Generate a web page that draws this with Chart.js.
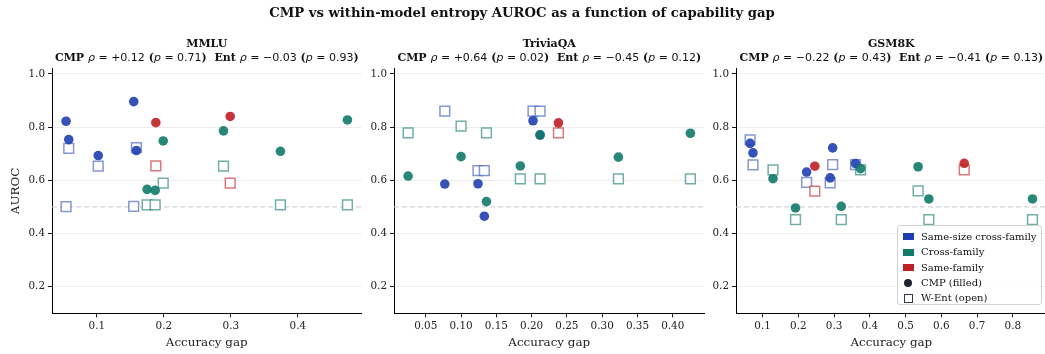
<!DOCTYPE html>
<html><head><meta charset="utf-8">
<script src="https://cdn.jsdelivr.net/npm/chart.js@4"></script>
<style>
html,body{margin:0;padding:0;background:#fff;overflow:hidden;width:1045px;height:354px;}
#wrap{position:relative;width:1045px;height:354px;overflow:hidden;}
canvas{position:absolute;top:0;}
.t{position:absolute;font-family:"DejaVu Serif";color:#111;white-space:nowrap;transform:translateX(-50%);}
.main{font-size:13.2px;font-weight:bold;line-height:15px;top:4.5px;}
.sub1{font-size:11px;font-weight:bold;line-height:13px;top:36.5px;}
.sub2{font-size:11px;font-weight:bold;line-height:13px;top:50.5px;}
.m{font-family:"DejaVu Sans";font-weight:normal;}
.m i{font-style:italic;}
#legend{position:absolute;left:897px;top:225px;width:143px;height:78px;border:1px solid #d3d3d3;border-radius:3px;background:rgba(255,255,255,0.85);font-family:"DejaVu Serif";font-size:10px;color:#111;}
.row{position:absolute;left:0;height:14px;line-height:14px;white-space:nowrap;}
.row span.lab{position:absolute;left:23px;top:0;}
.patch{position:absolute;left:5px;top:3.5px;width:11px;height:7px;}
.dot{position:absolute;left:6px;top:3px;width:8px;height:8px;border-radius:50%;background:#1e2636;}
.sq{position:absolute;left:5.5px;top:2.5px;width:7px;height:7px;border:1.6px solid #2f3a4c;background:#fff;}
</style>
</head><body>
<div id="wrap">
<canvas id="c1" width="362" height="354" style="left:0px;width:362px;height:354px"></canvas>
<canvas id="c2" width="345" height="354" style="left:362px;width:345px;height:354px"></canvas>
<canvas id="c3" width="345" height="354" style="left:707px;width:345px;height:354px"></canvas>
<div class="t main" style="left:522px">CMP vs within-model entropy AUROC as a function of capability gap</div>
<div id="titles"></div>
<div id="legend">
  <div class="row" style="top:3.7px"><div class="patch" style="background:#1f3fb0"></div><span class="lab">Same-size cross-family</span></div>
  <div class="row" style="top:19.1px"><div class="patch" style="background:#127a6a"></div><span class="lab">Cross-family</span></div>
  <div class="row" style="top:34.5px"><div class="patch" style="background:#c01f25"></div><span class="lab">Same-family</span></div>
  <div class="row" style="top:49.9px"><div class="dot"></div><span class="lab">CMP (filled)</span></div>
  <div class="row" style="top:65.3px"><div class="sq"></div><span class="lab">W-Ent (open)</span></div>
</div>
</div>
<script>
// ---------- data ----------
const panelNames = ['MMLU', 'TriviaQA', 'GSM8K'];
const cmpRho = ['+0.12', '+0.64', '\u22120.22'];
const cmpP   = ['0.71', '0.02', '0.43'];
const entRho = ['\u22120.03', '\u22120.45', '\u22120.41'];
const entP   = ['0.93', '0.12', '0.13'];

// MMLU
const mmluSameSizeGap = [0.054, 0.058, 0.102, 0.155, 0.159];
const mmluSameSizeCMP = [0.822, 0.753, 0.693, 0.896, 0.712];
const mmluSameSizeEnt = [0.501, 0.720, 0.653, 0.502, 0.723];
const mmluCrossGap = [0.175, 0.187, 0.199, 0.289, 0.374, 0.474];
const mmluCrossCMP = [0.566, 0.562, 0.748, 0.786, 0.709, 0.827];
const mmluCrossEnt = [0.508, 0.508, 0.589, 0.653, 0.508, 0.508];
const mmluSameFamGap = [0.188, 0.299];
const mmluSameFamCMP = [0.817, 0.840];
const mmluSameFamEnt = [0.654, 0.589];

// TriviaQA
const tqaSameSizeGap = [0.077, 0.124, 0.133, 0.202, 0.212];
const tqaSameSizeCMP = [0.586, 0.587, 0.465, 0.824, 0.770];
const tqaSameSizeEnt = [0.860, 0.636, 0.636, 0.860, 0.860];
const tqaCrossGap = [0.025, 0.100, 0.136, 0.184, 0.212, 0.323, 0.425];
const tqaCrossCMP = [0.616, 0.689, 0.520, 0.654, 0.771, 0.687, 0.777];
const tqaCrossEnt = [0.778, 0.804, 0.778, 0.605, 0.605, 0.605, 0.605];
const tqaSameFamGap = [0.238];
const tqaSameFamCMP = [0.816];
const tqaSameFamEnt = [0.778];

// GSM8K
const gsmSameSizeGap = [0.065, 0.073, 0.223, 0.289, 0.296, 0.360];
const gsmSameSizeCMP = [0.739, 0.703, 0.631, 0.609, 0.722, 0.663];
const gsmSameSizeEnt = [0.752, 0.658, 0.592, 0.590, 0.659, 0.659];
const gsmCrossGap = [0.129, 0.192, 0.320, 0.374, 0.535, 0.565, 0.855];
const gsmCrossCMP = [0.606, 0.496, 0.502, 0.644, 0.651, 0.530, 0.530];
const gsmCrossEnt = [0.639, 0.452, 0.452, 0.639, 0.560, 0.452, 0.452];
const gsmSameFamGap = [0.246, 0.664];
const gsmSameFamCMP = [0.653, 0.664];
const gsmSameFamEnt = [0.559, 0.639];

const xTicks1 = [0.1, 0.2, 0.3, 0.4];
const xTicks2 = [0.05, 0.10, 0.15, 0.20, 0.25, 0.30, 0.35, 0.40];
const xTicks3 = [0.1, 0.2, 0.3, 0.4, 0.5, 0.6, 0.7, 0.8];
const yTicks = [0.2, 0.4, 0.6, 0.8, 1.0];
const chanceLevel = 0.5;

// ---------- styles ----------
const COL = {
  blue: 'rgba(31,63,176,0.9)', teal: 'rgba(18,122,106,0.9)', red: 'rgba(192,31,37,0.9)',
  blueO: 'rgba(31,63,176,0.55)', tealO: 'rgba(18,122,106,0.6)', redO: 'rgba(192,31,37,0.6)'
};
const SERIF = 'DejaVu Serif';

function pts(xs, ys) { return xs.map((x, i) => ({x: x, y: ys[i]})); }
function circ(data, c) {
  return {type: 'scatter', data: data, pointStyle: 'circle', pointRadius: 4.8, pointBackgroundColor: c,
          pointBorderWidth: 0, pointBorderColor: c, showLine: false};
}
function sq(data, c) {
  return {type: 'scatter', data: data, pointStyle: 'rect', pointRadius: 6.9, pointBackgroundColor: '#fff',
          pointBorderWidth: 1.5, pointBorderColor: c, showLine: false};
}

const panels = [
  {id: 'c1', yw: 52, pr: 0.5, xt: xTicks1, dec: 1, ytitle: true,
   g: [[mmluSameSizeGap, mmluSameSizeCMP, mmluSameSizeEnt], [mmluCrossGap, mmluCrossCMP, mmluCrossEnt], [mmluSameFamGap, mmluSameFamCMP, mmluSameFamEnt]]},
  {id: 'c2', yw: 32, pr: 2.5, xt: xTicks2, dec: 2, ytitle: false,
   g: [[tqaSameSizeGap, tqaSameSizeCMP, tqaSameSizeEnt], [tqaCrossGap, tqaCrossCMP, tqaCrossEnt], [tqaSameFamGap, tqaSameFamCMP, tqaSameFamEnt]]},
  {id: 'c3', yw: 29, pr: 5.4, xt: xTicks3, dec: 1, ytitle: false,
   g: [[gsmSameSizeGap, gsmSameSizeCMP, gsmSameSizeEnt], [gsmCrossGap, gsmCrossCMP, gsmCrossEnt], [gsmSameFamGap, gsmSameFamCMP, gsmSameFamEnt]]}
];

const titleCenters = [];
panels.forEach((p, k) => {
  const allX = p.g[0][0].concat(p.g[1][0], p.g[2][0]);
  const lo = Math.min(...allX), hi = Math.max(...allX), m = (hi - lo) * 0.05;
  const xmin = lo - m, xmax = hi + m;
  const [ss, cf, sf] = p.g;
  const datasets = [
    circ(pts(sf[0], sf[1]), COL.red),
    circ(pts(cf[0], cf[1]), COL.teal),
    circ(pts(ss[0], ss[1]), COL.blue),
    sq(pts(sf[0], sf[2]), COL.redO),
    sq(pts(cf[0], cf[2]), COL.tealO),
    sq(pts(ss[0], ss[2]), COL.blueO),
    {type: 'line', data: [{x: xmin, y: chanceLevel}, {x: xmax, y: chanceLevel}], borderColor: '#cacad4',
     borderWidth: 1, borderDash: [5, 3], pointRadius: 0, fill: false}
  ];
  const chart = new Chart(document.getElementById(p.id), {
    type: 'scatter',
    data: {datasets: datasets},
    options: {
      animation: false, responsive: false, devicePixelRatio: 1,
      layout: {autoPadding: false, padding: {left: 0, right: p.pr, top: 68.6, bottom: 0}},
      plugins: {legend: {display: false}, tooltip: {enabled: false}},
      scales: {
        x: {type: 'linear', min: xmin, max: xmax,
            afterBuildTicks: s => { s.ticks = p.xt.map(v => ({value: v})); },
            afterFit: s => { s.height = 40.7; },
            grid: {drawOnChartArea: false, drawTicks: true, tickLength: 4, tickColor: '#000', tickWidth: 0.9},
            border: {display: true, color: '#000', width: 1},
            ticks: {color: '#222', font: {family: SERIF, size: 10.4}, padding: 2.5, maxRotation: 0, autoSkip: false,
                    callback: v => Number(v).toFixed(p.dec)},
            title: {display: true, text: 'Accuracy gap', color: '#222', font: {family: SERIF, size: 11.9},
                    padding: {top: 0, bottom: 4}}},
        y: {type: 'linear', min: 0.1, max: 1.02,
            afterBuildTicks: s => { s.ticks = yTicks.map(v => ({value: v})); },
            afterFit: s => { s.width = p.yw; },
            grid: {color: '#ededed', lineWidth: 1, drawTicks: true, tickLength: 4, tickColor: '#000', tickWidth: 0.9},
            border: {display: true, color: '#000', width: 1},
            ticks: {color: '#222', font: {family: SERIF, size: 10.4}, padding: 3, callback: v => Number(v).toFixed(1)},
            title: {display: p.ytitle, text: 'AUROC', color: '#222', font: {family: SERIF, size: 11.9},
                    padding: {top: 9, bottom: 0}}}
      }
    }
  });
  const off = [0, 362, 707][k];
  titleCenters.push(off + (chart.chartArea.left + chart.chartArea.right) / 2);
});

const tdiv = document.getElementById('titles');
panelNames.forEach((n, k) => {
  const c = titleCenters[k];
  tdiv.insertAdjacentHTML('beforeend',
    '<div class="t sub1" style="left:' + c + 'px">' + n + '</div>' +
    '<div class="t sub2" style="left:' + c + 'px">CMP <span class="m"><i>\u03c1</i> = ' + cmpRho[k] +
    '</span> (<span class="m"><i>p</i> = ' + cmpP[k] + '</span>)&nbsp; Ent <span class="m"><i>\u03c1</i> = ' +
    entRho[k] + '</span> (<span class="m"><i>p</i> = ' + entP[k] + '</span>)</div>');
});
</script>
</body></html>
